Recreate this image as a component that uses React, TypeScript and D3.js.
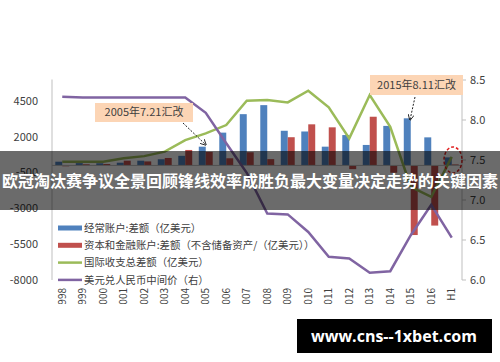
import { useEffect } from "react";
import * as d3 from "d3";

const categories = ["1998", "1999", "2000", "2001", "2002", "2003", "2004", "2005", "2006", "2007", "2008", "2009", "2010", "2011", "2012", "2013", "2014", "2015", "2016", "H1"];
const currentAccount = [260, 160, 150, 190, 330, 430, 670, 1310, 2290, 3580, 4210, 2420, 2370, 1310, 2120, 1430, 2760, 3290, 1960, 560];
const capitalAccount = [-60, 80, 100, 330, 280, 520, 1080, 950, 500, 920, 440, 1970, 2870, 2660, -260, 3400, -510, -4860, -4200, 70];
const balanceTotal = [260, 260, 260, 500, 650, 960, 1770, 2240, 2820, 4520, 4570, 4400, 5220, 4060, 1890, 4920, 2700, -1490, -2190, 600];
const usdCny = [8.29, 8.28, 8.28, 8.28, 8.28, 8.28, 8.28, 8.09, 7.71, 7.34, 6.83, 6.82, 6.6, 6.29, 6.27, 6.09, 6.11, 6.56, 6.94, 6.53];
const leftTicks = [4500, 2000, -500, -3000, -5500, -8000];
const rightTicks = [8.5, 8.0, 7.5, 7.0, 6.5, 6.0];
const legendNames = [
  "经常账户:差额（亿美元）",
  "资本和金融账户:差额（不含储备资产/（亿美元））",
  "国际收支总差额（亿美元）",
  "美元兑人民币中间价（右）",
];
const title = "欧冠淘汰赛争议全景回顾锋线效率成胜负最大变量决定走势的关键因素";

const W = 500;
const H = 362;
const plot = { left: 52, right: 462, top: 79.5, bottom: 280 };
const font = "'Noto Sans CJK SC', 'Noto Sans', sans-serif";
const colors = ["#4F81BD", "#C0504D", "#9BBB59", "#8064A2"];

export default function App() {
  useEffect(() => {
    document.body.style.margin = "0";
  }, []);

  const x = d3.scaleBand().domain(categories).range([plot.left, plot.right]);
  const yL = d3.scaleLinear().domain([-8000, 6000]).range([plot.bottom, plot.top]);
  const yR = d3.scaleLinear().domain([6, 8.5]).range([280, 80]);
  const bw = x.bandwidth() * 0.34;
  const cx = (c: string) => (x(c) as number) + x.bandwidth() / 2;

  const greenLine = d3
    .line<number>()
    .x((_, i) => cx(categories[i]))
    .y((d) => yL(d));
  const purpleLine = d3
    .line<number>()
    .x((_, i) => cx(categories[i]))
    .y((d) => yR(d));

  const bar = (v: number) => ({ y: Math.min(yL(v), yL(0)), h: Math.abs(yL(v) - yL(0)) });

  return (
    <svg width={W} height={H} style={{ position: "absolute", left: 0, top: 0, background: "#fff" }} fontFamily={font}>
      <defs>
        <clipPath id="lblclip">
          <rect x={0} y={0} width={W} height={304} />
        </clipPath>
        <marker id="arr" viewBox="0 0 10 10" refX={9} refY={5} markerWidth={6} markerHeight={6} orient="auto">
          <path d="M0,0 L10,5 L0,10" fill="none" stroke="#222" strokeWidth={1.5} />
        </marker>
      </defs>

      {/* axes */}
      <line x1={plot.left} x2={plot.left} y1={plot.top} y2={plot.bottom} stroke="#bfbfbf" />
      <line x1={plot.right} x2={plot.right} y1={80} y2={280} stroke="#bfbfbf" />
      {rightTicks.map((t) => (
        <g key={t}>
          <line x1={plot.right} x2={plot.right + 4} y1={yR(t)} y2={yR(t)} stroke="#bfbfbf" />
          <text x={470} y={yR(t)} dy="0.35em" fontSize={11} fill="#404040">
            {t.toFixed(1)}
          </text>
        </g>
      ))}
      {leftTicks.map((t) => (
        <text key={t} x={38} y={yL(t)} dy="0.35em" fontSize={11} fill="#404040" textAnchor="end">
          {t}
        </text>
      ))}

      {/* bars */}
      {categories.map((c, i) => {
        const b1 = bar(currentAccount[i]);
        const b2 = bar(capitalAccount[i]);
        return (
          <g key={c}>
            <rect x={cx(c) - bw} y={b1.y} width={bw} height={b1.h} fill={colors[0]} />
            <rect x={cx(c)} y={b2.y} width={bw} height={b2.h} fill={colors[1]} />
          </g>
        );
      })}
      <line x1={plot.left} x2={plot.right} y1={yL(0)} y2={yL(0)} stroke="#bfbfbf" />

      {/* lines */}
      <path d={greenLine(balanceTotal) || ""} fill="none" stroke={colors[2]} strokeWidth={2.5} />
      <path d={purpleLine(usdCny) || ""} fill="none" stroke={colors[3]} strokeWidth={2.5} />

      {/* x labels */}
      <g clipPath="url(#lblclip)">
        {categories.map((c) => (
          <text
            key={c}
            transform={`translate(${cx(c)},288) rotate(-90)`}
            dy="0.35em"
            textAnchor="end"
            fontSize={10}
            fill="#404040"
          >
            {c}
          </text>
        ))}
      </g>

      {/* legend */}
      {legendNames.map((n, i) => {
        const ly = 228 + i * 17.3;
        return (
          <g key={n}>
            {i < 2 ? (
              <rect x={58} y={ly - 2.5} width={24} height={5} fill={colors[i]} />
            ) : (
              <line x1={58} x2={82} y1={ly} y2={ly} stroke={colors[i]} strokeWidth={2.5} />
            )}
            <text x={84} y={ly} dy="0.35em" fontSize={10.4} fill="#404040">
              {n}
            </text>
          </g>
        );
      })}

      {/* annotations */}
      <rect x={95} y={103} width={98} height={19} fill="#FCD5B5" />
      <text x={144} y={112.5} dy="0.35em" fontSize={11} fill="#404040" textAnchor="middle">
        2005年7.21汇改
      </text>
      <line x1={183} y1={123} x2={206} y2={145} stroke="#222" strokeDasharray="2,1.5" markerEnd="url(#arr)" />
      <rect x={370} y={75} width={93} height={20} fill="#FCD5B5" />
      <text x={416.5} y={85} dy="0.35em" fontSize={11} fill="#404040" textAnchor="middle">
        2015年8.11汇改
      </text>
      <line x1={415} y1={97} x2={410} y2={120} stroke="#222" strokeDasharray="2,1.5" markerEnd="url(#arr)" />
      <ellipse cx={453} cy={160} rx={9} ry={13} fill="none" stroke="#e02020" strokeWidth={1.5} strokeDasharray="3,2" />

      {/* overlay banner */}
      <rect x={0} y={151} width={W} height={59} fill="rgba(0,0,0,0.58)" />
      <text x={W / 2} y={181} dy="0.35em" textAnchor="middle" fontSize={16} fontWeight="bold" fill="#fff">
        {title}
      </text>

      {/* watermark box */}
      <rect x={297} y={319} width={195} height={34} fill="#000" />
      <text x={394} y={336} dy="0.35em" textAnchor="middle" fontSize={16} fontWeight="bold" fill="#fff" fontFamily="'Open Sans', 'DejaVu Sans', sans-serif">
        www.cns--1xbet.com
      </text>
    </svg>
  );
}
